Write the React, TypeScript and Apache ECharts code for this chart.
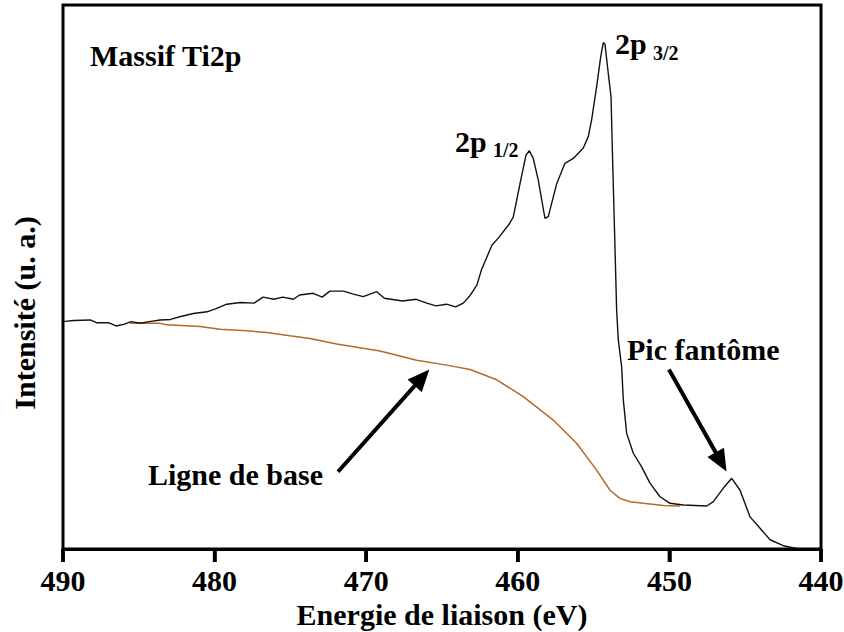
import React, { useEffect, useRef } from "react";
import * as echarts from "echarts";

// Ti2p XPS spectrum (binding energy in eV, intensity in arbitrary units)
const spectrumEnergy = [
  490.0, 489.3, 488.2, 487.8, 487.0, 486.5, 486.0, 485.5, 484.9, 484.3,
  483.6, 482.9, 482.3, 481.4, 480.5, 479.9, 479.2, 478.3, 477.4, 476.8,
  476.1, 475.5, 474.8, 474.4, 473.5, 472.9, 472.4, 471.5, 470.9, 470.2,
  469.3, 468.8, 467.6, 466.7, 466.0, 465.4, 464.7, 464.1, 463.6, 463.2,
  462.7, 462.4, 461.7, 461.3, 460.6, 460.3, 459.85, 459.46, 459.24, 458.98,
  458.65, 458.21, 457.99, 457.43, 456.89, 456.34, 455.68, 455.35, 455.13, 454.8,
  454.53, 454.36, 454.25, 454.03, 453.85, 453.74, 453.62, 453.48, 453.37, 453.15,
  453.04, 452.82, 452.38, 451.83, 451.28, 450.62, 449.96, 449.08, 447.54, 447.1,
  446.44, 445.89, 445.34, 444.68, 444.02, 443.36, 442.49, 441.6,
];
const spectrumIntensity = [
  41.8, 42.0, 42.1, 41.6, 41.6, 41.0, 41.3, 41.8, 41.5, 41.8,
  42.1, 42.2, 42.7, 43.3, 43.6, 44.2, 45.0, 45.3, 45.2, 46.3,
  45.9, 46.3, 45.9, 46.7, 47.0, 46.3, 47.4, 47.4, 46.9, 46.4,
  47.3, 46.1, 45.6, 45.9, 45.2, 44.7, 45.0, 44.5, 45.2, 46.4,
  48.5, 51.3, 55.9, 57.1, 59.6, 61.0, 67.2, 72.4, 73.2, 71.8,
  67.8, 60.8, 61.1, 67.2, 70.9, 71.8, 73.7, 75.8, 78.9, 85.0,
  90.5, 93.1, 92.8, 87.4, 83.1, 70.9, 58.6, 43.9, 38.4, 33.5,
  27.4, 21.3, 17.6, 15.1, 12.1, 9.6, 8.4, 8.1, 7.9, 8.7,
  11.2, 13.0, 10.8, 5.9, 3.8, 1.7, 0.6, 0.1,
];

// Background (Shirley-type) baseline
const baselineEnergy = [
  485.58, 483.6, 483.16, 480.96, 479.64, 477.88, 476.56, 475.03, 473.71, 471.95,
  470.63, 469.09, 466.67, 464.69, 463.15, 461.39, 459.64, 457.66, 456.11, 454.8,
  453.92, 453.26, 452.6, 451.72, 450.4, 449.3,
];
const baselineIntensity = [
  41.5, 41.5, 41.2, 40.9, 40.4, 40.1, 39.8, 39.2, 38.7, 37.7,
  37.1, 36.4, 34.7, 33.8, 33.0, 31.1, 28.0, 23.7, 19.4, 14.5,
  10.8, 9.3, 8.7, 8.4, 8.0, 7.9,
];

// x-axis tick values (eV)
const xTickValues = [490, 480, 470, 460, 450, 440];

// Arrow annotations [from, to] in data coordinates
const arrowBaseline = [[471.86, 14.2], [466.32, 31.5]];
const arrowGhost = [[450.03, 33.0], [446.59, 16.0]];

const FONT = '"Liberation Serif", "Times New Roman", Times, serif';

export default function App() {
  const ref = useRef<HTMLDivElement>(null);

  useEffect(() => {
    if (!ref.current) return;
    const chart = echarts.init(ref.current, null, { renderer: "svg" });
    const spectrum = spectrumEnergy.map((e, i) => [e, spectrumIntensity[i]]);
    const baseline = baselineEnergy.map((e, i) => [e, baselineIntensity[i]]);

    const txt = (text: string, x: number, y: number, size: number) => ({
      type: "text",
      x,
      y,
      silent: true,
      style: {
        text,
        fill: "#000",
        font: `bold ${size}px ${FONT}`,
        align: "left",
        verticalAlign: "middle",
      },
    });

    const texts: any[] = [
      txt("Massif Ti2p", 90, 55, 30),
      txt("2p", 455, 141.5, 30),
      txt("1/2", 493, 150, 20),
      txt("2p", 615, 43, 30),
      txt("3/2", 653, 52.5, 20),
      txt("Pic fantôme", 627, 349.5, 30),
      txt("Ligne de base", 148, 474.5, 30),
      {
        type: "text",
        x: 24,
        y: 313,
        rotation: Math.PI / 2,
        silent: true,
        style: {
          text: "Intensité (u. a.)",
          fill: "#000",
          font: `bold 30px ${FONT}`,
          align: "center",
          verticalAlign: "middle",
        },
      },
    ];

    chart.setOption({
      animation: false,
      backgroundColor: "#fff",
      grid: {
        left: 63,
        right: 23,
        top: 5,
        bottom: 83,
        containLabel: false,
        outerBoundsMode: "none",
        show: true,
        borderColor: "#000",
        borderWidth: 3,
        backgroundColor: "transparent",
      },
      xAxis: {
        type: "value",
        inverse: true,
        min: 440,
        max: 490,
        interval: 10,
        name: "Energie de liaison (eV)",
        nameLocation: "middle",
        nameGap: 44,
        nameTextStyle: { fontFamily: FONT, fontWeight: "bold", fontSize: 30, color: "#000" },
        axisLine: { show: true, onZero: false, lineStyle: { color: "#000", width: 3 } },
        axisTick: { show: true, inside: false, length: 13, lineStyle: { color: "#000", width: 3.5 } },
        minorTick: { show: false },
        axisLabel: {
          fontFamily: FONT,
          fontWeight: "bold",
          fontSize: 30,
          color: "#000",
          margin: 16,
          showMinLabel: true,
          showMaxLabel: true,
        },
        splitLine: { show: false },
        z: 10,
      },
      yAxis: {
        type: "value",
        min: 0,
        max: 100,
        axisLine: { show: false },
        axisTick: { show: false },
        axisLabel: { show: false },
        splitLine: { show: false },
      },
      series: [
        {
          name: "Baseline",
          type: "line",
          data: baseline,
          showSymbol: false,
          symbol: "none",
          lineStyle: { color: "#b36a2a", width: 1.5 },
          z: 2,
        },
        {
          name: "Ti2p",
          type: "line",
          data: spectrum,
          showSymbol: false,
          symbol: "none",
          lineStyle: { color: "#111", width: 1.4 },
          z: 3,
          markLine: {
            silent: true,
            symbol: ["none", "triangle"],
            symbolSize: [19, 22],
            label: { show: false },
            lineStyle: { color: "#000", width: 4, type: "solid" },
            data: [
              [{ coord: arrowBaseline[0] }, { coord: arrowBaseline[1] }],
              [{ coord: arrowGhost[0] }, { coord: arrowGhost[1] }],
            ],
          },
        },
      ],
      graphic: texts,
    });

    // Outward tick marks positioned through the axis scale
    const yBottom = chart.convertToPixel({ yAxisIndex: 0 }, 0) as number;
    const ticks = xTickValues.map((v) => {
      const px = chart.convertToPixel({ xAxisIndex: 0 }, v) as number;
      return {
        type: "line",
        silent: true,
        z: 100,
        shape: { x1: px, y1: yBottom, x2: px, y2: yBottom + 13 },
        style: { stroke: "#000", lineWidth: 3.5 },
      };
    });
    chart.setOption({ graphic: [...texts, ...ticks] });

    return () => chart.dispose();
  }, []);

  return (
    <div
      ref={ref}
      style={{ position: "absolute", left: 0, top: 0, width: 844, height: 632, background: "#fff" }}
    />
  );
}
